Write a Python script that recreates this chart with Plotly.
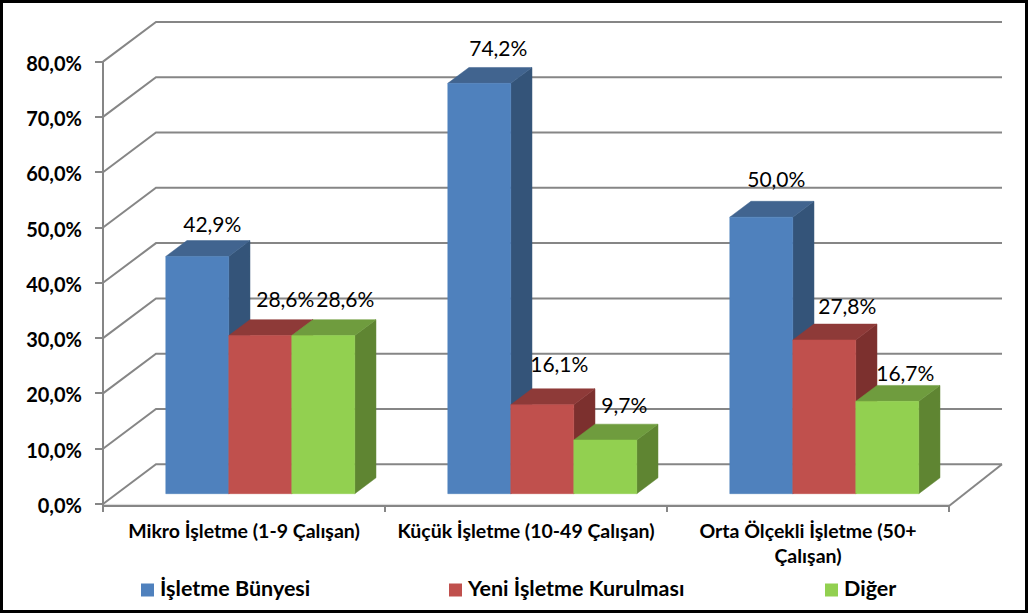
import plotly.graph_objects as go

categories = ['Mikro İşletme (1-9 Çalışan)', 'Küçük İşletme (10-49 Çalışan)', 'Orta Ölçekli İşletme (50+<br>Çalışan)']
series_names = ['İşletme Bünyesi', 'Yeni İşletme Kurulması', 'Diğer']
isletme_bunyesi = [42.9, 74.2, 50.0]
yeni_isletme = [28.6, 16.1, 27.8]
diger = [28.6, 9.7, 16.7]
y_ticks = [0, 10, 20, 30, 40, 50, 60, 70, 80]
y_tick_labels = ['0,0%', '10,0%', '20,0%', '30,0%', '40,0%', '50,0%', '60,0%', '70,0%', '80,0%']

FRONT = ['#4F81BD', '#C0504D', '#92D050']
TOP = ['#41648F', '#8E3A38', '#6F9C3E']
SIDE = ['#345479', '#7C302E', '#5F8532']
GRID = '#868686'
FONT = 'Lato'

# pixel layout of the oblique 3d box, the axes span the whole canvas
W, H = 1028, 613
LEFT, BOTTOM = 103, 504
CAT_PX = 282
PCT_PX = 5.53
DEPTH_X = 53 / CAT_PX   # category units
DEPTH_Y = 39.7 / PCT_PX  # percent units
BAR_W = 63 / CAT_PX
BAR_START = 49 / CAT_PX
D0, D1 = 0.26, 0.66     # bar depth inside the box
FLOOR_DROP = 2 / PCT_PX  # front floor edge sits just under the 0 tick

# hand nudges for the data labels, in pixels (right, down)
NUDGE_X = [[-4, 0, -4], [6, -2, 4], [3, 0, -1]]
NUDGE_Y = [[3, 0, -2], [-1, -5, 2], [-1, 1, 7]]
LEGEND_MARKER_PX = [147.5, 455.5, 831.5]
LEGEND_TEXT_PX = [160, 468, 844]
LEGEND_Y_PX = 590


def proj(x, y, d):
    return x + d * DEPTH_X, y + d * DEPTH_Y


def poly(points):
    xs, ys = zip(*points)
    return list(xs) + [xs[0], None], list(ys) + [ys[0], None]


fig = go.Figure()

# light edge above the floor line
fig.add_trace(go.Scatter(x=[0, 3], y=[-FLOOR_DROP + 1.6 / PCT_PX] * 2, mode='lines',
                         line=dict(color='#D9D9D9', width=1), hoverinfo='skip', showlegend=False))

# walls
gx, gy = [], []
for t in y_ticks:
    gx += [0, DEPTH_X, 3 + DEPTH_X, None]
    gy += [t, t + DEPTH_Y, t + DEPTH_Y, None]
gx += [3, 3 + DEPTH_X, None, 0, 0, None, 0, 3]
gy += [-FLOOR_DROP, DEPTH_Y, None, -FLOOR_DROP, 80, None, -FLOOR_DROP, -FLOOR_DROP]
fig.add_trace(go.Scatter(x=gx, y=gy, mode='lines', line=dict(color=GRID, width=2),
                         hoverinfo='skip', showlegend=False))

# bars, left to right so the later bar hides the earlier side face
for s, values in enumerate([isletme_bunyesi, yeni_isletme, diger]):
    side_x, side_y, top_x, top_y, front_x, front_y = [], [], [], [], [], []
    for c, v in enumerate(values):
        a = c + BAR_START + s * BAR_W
        b = a + BAR_W
        px, py = poly([proj(b, 0, D0), proj(b, 0, D1), proj(b, v, D1), proj(b, v, D0)])
        side_x += px
        side_y += py
        px, py = poly([proj(a, v, D0), proj(a, v, D1), proj(b, v, D1), proj(b, v, D0)])
        top_x += px
        top_y += py
        px, py = poly([proj(a, 0, D0), proj(b, 0, D0), proj(b, v, D0), proj(a, v, D0)])
        front_x += px
        front_y += py
    for xs, ys, col in [(side_x, side_y, SIDE[s]), (top_x, top_y, TOP[s]), (front_x, front_y, FRONT[s])]:
        fig.add_trace(go.Scatter(x=xs, y=ys, mode='lines', fill='toself', fillcolor=col,
                                 line=dict(color=col, width=0.5), hoverinfo='skip', showlegend=False))

# data labels
for s, values in enumerate([isletme_bunyesi, yeni_isletme, diger]):
    lx = [c + BAR_START + (s + 0.5) * BAR_W + D0 * DEPTH_X + (19 + NUDGE_X[s][c]) / CAT_PX for c in range(3)]
    ly = [v + DEPTH_Y * D0 + (33 - NUDGE_Y[s][c]) / PCT_PX for c, v in enumerate(values)]
    labels = [f'{v:.1f}%'.replace('.', ',') for v in values]
    fig.add_trace(go.Scatter(x=lx, y=ly, mode='text', text=labels, textposition='middle center',
                             textfont=dict(family=FONT, size=21, color='black'),
                             hoverinfo='skip', showlegend=False))

# legend, drawn by hand because the gaps in the original are uneven
for s, name in enumerate(series_names):
    fig.add_trace(go.Scatter(x=[(LEGEND_MARKER_PX[s] - LEFT) / CAT_PX], y=[(BOTTOM - LEGEND_Y_PX) / PCT_PX],
                             mode='markers', name=name,
                             marker=dict(symbol='square', size=13, color=FRONT[s]),
                             hoverinfo='skip', showlegend=False))
    fig.add_trace(go.Scatter(x=[(LEGEND_TEXT_PX[s] - LEFT) / CAT_PX], y=[(BOTTOM - LEGEND_Y_PX - 1) / PCT_PX],
                             mode='text', text=[name], textposition='middle right',
                             textfont=dict(family=FONT, size=21.5, color='black', weight=700),
                             hoverinfo='skip', showlegend=False))

fig.update_layout(
    width=W, height=H,
    margin=dict(l=0, r=0, t=0, b=0, pad=0),
    paper_bgcolor='white', plot_bgcolor='white',
    showlegend=False,
    xaxis=dict(range=[-LEFT / CAT_PX, (W - LEFT) / CAT_PX], showgrid=False, zeroline=False, showline=False,
               anchor='free', position=(H - BOTTOM) / H, automargin=False,
               tickmode='array', tickvals=[0.5, 1.5, 2.5], ticktext=categories, ticks='',
               tickfont=dict(family=FONT, size=19.5, color='black', weight=700),
               tickangle=0, ticklabelstandoff=13,
               minor=dict(tickmode='array', tickvals=[0, 1, 2, 3], ticks='outside', ticklen=7,
                          tickwidth=2, tickcolor=GRID, showgrid=False)),
    yaxis=dict(range=[(BOTTOM - H) / PCT_PX, BOTTOM / PCT_PX], showgrid=False, zeroline=False, showline=False,
               anchor='free', position=LEFT / W, automargin=False,
               tickmode='array', tickvals=y_ticks, ticktext=y_tick_labels, ticks='outside', ticklen=8,
               tickwidth=2, tickcolor=GRID, ticklabelstandoff=9, ticklabelshift=2,
               tickfont=dict(family=FONT, size=20, color='black', weight=700)),
    shapes=[dict(type='rect', xref='paper', yref='paper',
                 x0=1.5 / W, x1=1 - 1.5 / W, y0=1.5 / H, y1=1 - 1.5 / H,
                 line=dict(color='black', width=3), fillcolor='rgba(0,0,0,0)', layer='above')],
)

fig.write_html('out.html', config=dict(displayModeBar=False),
               post_script="document.body.style.margin='0';document.body.style.overflow='hidden';")
